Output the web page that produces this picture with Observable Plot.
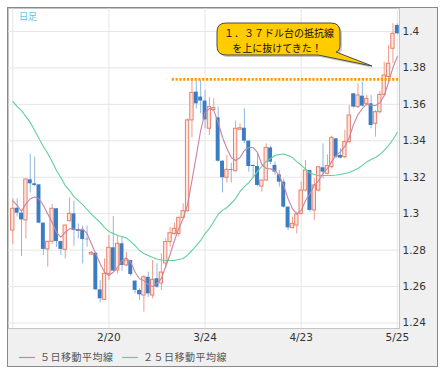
<!DOCTYPE html>
<html><head><meta charset="utf-8">
<script src="https://cdn.jsdelivr.net/npm/d3@7"></script>
<script src="https://cdn.jsdelivr.net/npm/@observablehq/plot@0.6"></script>
<style>
body{margin:0;background:#fff;}
#wrap{position:relative;width:444px;height:373px;overflow:hidden;}
#box{position:absolute;left:7px;top:7px;width:429px;height:358px;border:1px solid #8a8a8a;background:#f0f0f0;}
#chart{position:absolute;left:0;top:0;}
#over{position:absolute;left:0;top:0;pointer-events:none;}
</style></head>
<body>
<div id="wrap"><div id="box"></div><div id="chart"></div>
<svg id="over" width="444" height="373"></svg></div>
<script>
const opens  = [1.2908,1.3030,1.3003,1.2963,1.3186,1.3164,1.3158,1.2948,1.2804,1.2846,1.3027,1.2847,1.2802,1.2959,1.2999,1.2913,1.2908,1.2860,1.2776,1.2783,1.2582,1.2527,1.2670,1.2813,1.2688,1.2835,1.2716,1.2743,1.2630,1.2579,1.2551,1.2651,1.2551,1.2643,1.2617,1.2727,1.2844,1.2889,1.2889,1.2977,1.3014,1.3512,1.3667,1.3640,1.3618,1.3466,1.3570,1.3526,1.3288,1.3197,1.3241,1.3233,1.3461,1.3469,1.3398,1.3265,1.3259,1.3149,1.3182,1.3361,1.3265,1.3213,1.3173,1.3036,1.2921,1.2935,1.2999,1.3127,1.3237,1.3018,1.3127,1.3252,1.3219,1.3255,1.3411,1.3320,1.3310,1.3393,1.3658,1.3585,1.3645,1.3603,1.3603,1.3493,1.3557,1.3652,1.3750,1.3905,1.4033];
const highs  = [1.3082,1.3082,1.3018,1.3190,1.3325,1.3310,1.3160,1.2950,1.2848,1.3051,1.3029,1.2849,1.2937,1.3087,1.3069,1.2944,1.2932,1.2932,1.2793,1.2785,1.2633,1.2752,1.2880,1.2985,1.2880,1.2871,1.2789,1.2745,1.2632,1.2588,1.2660,1.2680,1.2743,1.2725,1.2780,1.2862,1.2926,1.2948,1.2981,1.3054,1.3521,1.3731,1.3731,1.3731,1.3676,1.3636,1.3630,1.3585,1.3290,1.3319,1.3277,1.3508,1.3493,1.3575,1.3400,1.3267,1.3328,1.3184,1.3383,1.3370,1.3283,1.3237,1.3191,1.3038,1.2981,1.3008,1.3173,1.3292,1.3239,1.3191,1.3257,1.3383,1.3323,1.3426,1.3413,1.3356,1.3457,1.3594,1.3660,1.3713,1.3722,1.3649,1.3649,1.3566,1.3671,1.3832,1.3923,1.4042,1.4042];
const lows   = [1.2831,1.2981,1.2765,1.2862,1.3113,1.3149,1.2944,1.2771,1.2707,1.2831,1.2816,1.2771,1.2752,1.2954,1.2822,1.2862,1.2725,1.2816,1.2771,1.2579,1.2509,1.2524,1.2633,1.2683,1.2670,1.2685,1.2710,1.2655,1.2560,1.2524,1.2460,1.2540,1.2533,1.2590,1.2579,1.2700,1.2816,1.2880,1.2871,1.2972,1.3008,1.3416,1.3575,1.3548,1.3466,1.3429,1.3566,1.3283,1.3114,1.3168,1.3168,1.3228,1.3457,1.3383,1.3228,1.3200,1.3149,1.3118,1.3178,1.3270,1.3210,1.3146,1.3031,1.2908,1.2917,1.2889,1.2990,1.3118,1.3008,1.2963,1.3118,1.3191,1.3213,1.3246,1.3305,1.3301,1.3301,1.3384,1.3579,1.3576,1.3585,1.3590,1.3466,1.3420,1.3548,1.3640,1.3722,1.3823,1.3982];
const closes = [1.3027,1.3003,1.2966,1.3188,1.3164,1.3155,1.2948,1.2804,1.2846,1.3027,1.2847,1.2804,1.2935,1.2999,1.2908,1.2902,1.2858,1.2857,1.2785,1.2582,1.2533,1.2670,1.2813,1.2685,1.2835,1.2716,1.2743,1.2666,1.2579,1.2555,1.2651,1.2560,1.2637,1.2597,1.2677,1.2844,1.2893,1.2917,1.2977,1.3014,1.3512,1.3663,1.3603,1.3618,1.3515,1.3585,1.3579,1.3288,1.3197,1.3241,1.3237,1.3466,1.3469,1.3398,1.3259,1.3259,1.3155,1.3182,1.3361,1.3283,1.3228,1.3173,1.3036,1.2922,1.2944,1.2996,1.3127,1.3237,1.3018,1.3155,1.3255,1.3228,1.3261,1.3416,1.3310,1.3305,1.3393,1.3539,1.3585,1.3649,1.3590,1.3630,1.3484,1.3557,1.3652,1.3758,1.3823,1.3987,1.3987];
const ma5  = [1.3070,1.3045,1.3014,1.3054,1.3082,1.3091,1.3082,1.3045,1.2999,1.2953,1.2898,1.2871,1.2898,1.2917,1.2917,1.2908,1.2917,1.2890,1.2835,1.2780,1.2725,1.2679,1.2661,1.2679,1.2706,1.2743,1.2758,1.2734,1.2679,1.2643,1.2633,1.2611,1.2600,1.2617,1.2644,1.2710,1.2776,1.2853,1.2919,1.2974,1.3050,1.3182,1.3319,1.3457,1.3555,1.3577,1.3566,1.3501,1.3418,1.3358,1.3308,1.3292,1.3308,1.3347,1.3363,1.3363,1.3336,1.3270,1.3248,1.3246,1.3237,1.3210,1.3155,1.3082,1.3027,1.2999,1.3018,1.3072,1.3111,1.3155,1.3182,1.3221,1.3248,1.3287,1.3319,1.3341,1.3369,1.3418,1.3490,1.3544,1.3577,1.3602,1.3594,1.3594,1.3608,1.3649,1.3720,1.3802,1.3863];
const ma25 = [1.3616,1.3588,1.3566,1.3533,1.3501,1.3457,1.3413,1.3369,1.3330,1.3286,1.3237,1.3199,1.3155,1.3127,1.3094,1.3072,1.3050,1.3023,1.2996,1.2974,1.2952,1.2924,1.2902,1.2891,1.2880,1.2875,1.2867,1.2847,1.2825,1.2798,1.2782,1.2771,1.2760,1.2751,1.2746,1.2743,1.2743,1.2743,1.2749,1.2754,1.2773,1.2798,1.2825,1.2853,1.2891,1.2919,1.2957,1.2996,1.3018,1.3034,1.3056,1.3083,1.3122,1.3149,1.3171,1.3199,1.3232,1.3259,1.3287,1.3303,1.3319,1.3325,1.3328,1.3319,1.3308,1.3286,1.3267,1.3245,1.3223,1.3215,1.3210,1.3210,1.3210,1.3210,1.3212,1.3215,1.3221,1.3226,1.3237,1.3248,1.3265,1.3284,1.3297,1.3308,1.3325,1.3347,1.3374,1.3407,1.3446];
const gridIdx = [0,22,44,66,88];
const xTickIdx = [22,44,66,88];
const xTickLabels = ["2/20","3/24","4/23","5/25"];
const yTicks = [1.24,1.26,1.28,1.30,1.32,1.34,1.36,1.38,1.40];
const yTickLabels = ["1.24","1.26","1.28","1.3","1.32","1.34","1.36","1.38","1.4"];
const resistance = 1.3737;
const resistanceStart = 36.5;
const legendNames = ["５日移動平均線","２５日移動平均線"];

const candles = opens.map((o,i)=>({i,o,h:highs[i],l:lows[i],c:closes[i],up:closes[i]>=o}));
const upC = candles.filter(d=>d.up), dnC = candles.filter(d=>!d.up);
const maData = ma5.map((v,i)=>({i,ma5:v,ma25:ma25[i]}));
const xDom = [-0.98, 88.5];

const chart = Plot.plot({
  width: 444, height: 350,
  marginLeft: 8, marginTop: 8, marginRight: 45, marginBottom: 22,
  style: {background:"transparent", fontFamily:"DejaVu Sans", fontSize:"10.5px"},
  x: {type:"linear", domain: xDom, axis: null, label: null},
  y: {domain: [1.2370, 1.4126], axis: null, label: null},
  marks: [
    Plot.frame({fill:"white", stroke:"#c4c4c4"}),
    Plot.ruleY(yTicks, {stroke:"#e6e6e6"}),
    Plot.ruleX(gridIdx, {stroke:"#e6e6e6"}),
    Plot.ruleX(upC, {x:"i", y1:"l", y2:"h", stroke:"#ee9c8a", strokeWidth:1}),
    Plot.ruleX(dnC, {x:"i", y1:"l", y2:"h", stroke:"#8fb7dd", strokeWidth:1}),
    Plot.rect(upC, {x1:d=>d.i-0.38, x2:d=>d.i+0.38, y1:"o", y2:"c", fill:"#fde5de", stroke:"#e8806a", strokeWidth:1}),
    Plot.rect(dnC, {x1:d=>d.i-0.45, x2:d=>d.i+0.45, y1:"o", y2:"c", fill:"#3b7dc0"}),
    Plot.line(maData, {x:"i", y:"ma25", stroke:"#5fd19b", strokeWidth:1.1}),
    Plot.line(maData, {x:"i", y:"ma5", stroke:"#cc82a4", strokeWidth:1.1}),
    Plot.ruleY([resistance], {x1: resistanceStart, x2: xDom[1], stroke:"#ff9900", strokeWidth:2.6, strokeDasharray:"2.2,1.6"}),
    Plot.axisY(yTicks, {anchor:"right", label:null, tickSize:0, tickPadding:3, tickFormat:d=>yTickLabels[yTicks.indexOf(d)], fill:"#333", fontSize:10.5}),
    Plot.axisX(xTickIdx, {anchor:"bottom", label:null, tickSize:0, tickPadding:5, tickFormat:d=>xTickLabels[xTickIdx.indexOf(d)], fill:"#333", fontSize:10.5})
  ]
});
document.getElementById("chart").appendChild(chart);

// annotations
const svg = d3.select("#over");
svg.append("text").attr("x",19).attr("y",20).attr("font-family","Noto Sans CJK JP").attr("font-size",9).attr("fill","#5cc4ec").text("日足");
const bubble = "M226,23 H331 Q340,23 340,32 V45 Q340,51 336,52 L372,66 L318,55 H226 Q217,55 217,46 V32 Q217,23 226,23 Z";
svg.append("path").attr("d",bubble).attr("transform","translate(2,2)").attr("fill","#9a9a9a").attr("opacity",0.55);
svg.append("path").attr("d",bubble).attr("fill","#ffcc00").attr("stroke","#4a4a4a").attr("stroke-width",1);
svg.append("text").attr("x",279).attr("y",37).attr("text-anchor","middle").attr("font-family","Noto Sans CJK JP").attr("font-size",10).attr("fill","#111").text("１．３７ドル台の抵抗線");
svg.append("text").attr("x",277).attr("y",51.5).attr("text-anchor","middle").attr("font-family","Noto Sans CJK JP").attr("font-size",10).attr("fill","#111").text("を上に抜けてきた！");
// legend
const legColors = ["#cc82a4","#5fd19b"];
const legX = [19,122];
legendNames.forEach((n,k)=>{
  svg.append("line").attr("x1",legX[k]).attr("x2",legX[k]+16).attr("y1",357.5).attr("y2",357.5).attr("stroke",legColors[k]).attr("stroke-width",1.2);
  svg.append("text").attr("x",legX[k]+21).attr("y",361).attr("font-family","Noto Sans CJK JP").attr("font-size",10).attr("letter-spacing","0.5px").attr("fill","#555").text(n);
});
</script>
</body></html>
